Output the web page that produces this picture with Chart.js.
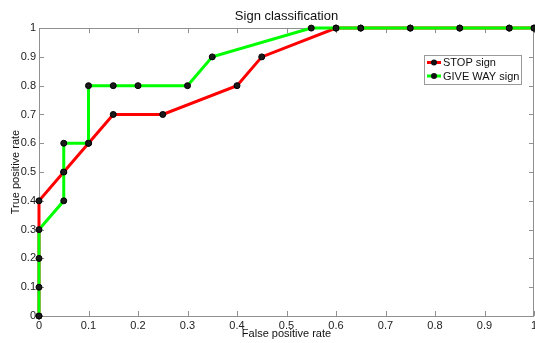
<!DOCTYPE html>
<html>
<head>
<meta charset="utf-8">
<script src="https://cdn.jsdelivr.net/npm/chart.js@4/dist/chart.umd.min.js"></script>
<style>
    html, body { margin: 0; padding: 0; background: #fff; }
    #roc { display: block; }
</style>
</head>
<body>
<canvas id="roc" width="535" height="343"></canvas>
<script>
var seriesNames = ['STOP sign', 'GIVE WAY sign'];
var seriesColors = ['#ff0000', '#00ff00'];

var stopFpr = [0, 0, 0.05, 0.1, 0.15, 0.25, 0.4, 0.45, 0.6, 0.65, 0.75, 0.85, 0.95, 1];
var stopTpr = [0, 0.4, 0.5, 0.6, 0.7, 0.7, 0.8, 0.9, 1, 1, 1, 1, 1, 1];

var giveFpr = [0, 0, 0, 0, 0.05, 0.05, 0.05, 0.1, 0.1, 0.15, 0.2, 0.3, 0.35, 0.55, 0.6, 0.65, 0.75, 0.85, 0.95, 1];
var giveTpr = [0, 0.1, 0.2, 0.3, 0.4, 0.5, 0.6, 0.6, 0.8, 0.8, 0.8, 0.8, 0.9, 1, 1, 1, 1, 1, 1, 1];

var tickValues = [0, 0.1, 0.2, 0.3, 0.4, 0.5, 0.6, 0.7, 0.8, 0.9, 1];

(function () {
    var FONT = '"Liberation Sans", Arial, sans-serif';
    var AXIS_GREY = '#909090';

    function toPoints(xs, ys) {
        var out = [];
        for (var i = 0; i < xs.length; i++) out.push({ x: xs[i], y: ys[i] });
        return out;
    }

    function fmt(v) {
        return String(Number(v.toFixed(1)));
    }

    // matlab-ish box with inward ticks on all four sides
    var boxPlugin = {
        id: 'matlabBox',
        beforeDatasetsDraw: function (chart) {
            var ctx = chart.ctx;
            var a = chart.chartArea;
            var xs = chart.scales.x;
            var ys = chart.scales.y;
            var len = 5;
            ctx.save();
            ctx.strokeStyle = AXIS_GREY;
            ctx.lineWidth = 1;
            ctx.beginPath();
            ctx.rect(Math.round(a.left) + 0.5, Math.round(a.top) + 0.5,
                Math.round(a.right - a.left) - 1, Math.round(a.bottom - a.top));
            tickValues.forEach(function (v) {
                var px = Math.round(xs.getPixelForValue(v)) + 0.5;
                ctx.moveTo(px, a.bottom);
                ctx.lineTo(px, a.bottom - len);
                ctx.moveTo(px, a.top);
                ctx.lineTo(px, a.top + len);
                var py = Math.round(ys.getPixelForValue(v)) + 0.5;
                ctx.moveTo(a.left, py);
                ctx.lineTo(a.left + len, py);
                ctx.moveTo(a.right, py);
                ctx.lineTo(a.right - len, py);
            });
            ctx.stroke();
            ctx.restore();
        }
    };

    var legendPlugin = {
        id: 'insideLegend',
        afterDraw: function (chart) {
            var ctx = chart.ctx;
            var x0 = 424, y0 = 55, w = 97, h = 29;
            ctx.save();
            ctx.fillStyle = '#ffffff';
            ctx.fillRect(x0, y0, w, h);
            ctx.strokeStyle = '#999999';
            ctx.lineWidth = 1;
            ctx.strokeRect(x0 + 0.5, y0 + 0.5, w, h);
            ctx.font = '11px ' + FONT;
            ctx.textBaseline = 'middle';
            chart.data.datasets.forEach(function (ds, i) {
                var cy = y0 + 7.5 + i * 13.5;
                ctx.strokeStyle = ds.borderColor;
                ctx.lineWidth = 3;
                ctx.beginPath();
                ctx.moveTo(x0 + 3, cy);
                ctx.lineTo(x0 + 17, cy);
                ctx.stroke();
                ctx.fillStyle = '#111';
                ctx.beginPath();
                ctx.arc(x0 + 10, cy, 3, 0, Math.PI * 2);
                ctx.fill();
                ctx.fillStyle = '#111';
                ctx.fillText(ds.label, x0 + 19, cy + 0.5);
            });
            ctx.restore();
        }
    };

    function makeDataset(i, xs, ys, order) {
        return {
            label: seriesNames[i],
            data: toPoints(xs, ys),
            showLine: true,
            borderColor: seriesColors[i],
            backgroundColor: seriesColors[i],
            borderWidth: 3,
            pointRadius: 3,
            pointBorderWidth: 1,
            pointBackgroundColor: '#1a1a1a',
            pointBorderColor: '#000',
            tension: 0,
            clip: false,
            order: order
        };
    }

    function initRocChart() {
        var canvas = document.getElementById('roc');
        if (!window.Chart || !canvas) return;

        new Chart(canvas, {
            type: 'scatter',
            data: {
                datasets: [
                    makeDataset(0, stopFpr, stopTpr, 1),
                    makeDataset(1, giveFpr, giveTpr, 0)
                ]
            },
            options: {
                responsive: false,
                animation: false,
                devicePixelRatio: 1,
                layout: { autoPadding: false, padding: { left: 0, right: 1, top: 0, bottom: 0 } },
                plugins: {
                    legend: { display: false },
                    tooltip: { enabled: false },
                    title: {
                        display: true,
                        text: 'Sign classification',
                        fullSize: false,
                        color: '#111',
                        font: { family: FONT, size: 13, weight: 'normal' },
                        padding: { top: 8.5, bottom: 4 }
                    }
                },
                scales: {
                    x: {
                        type: 'linear',
                        min: 0,
                        max: 1,
                        afterBuildTicks: function (scale) {
                            scale.ticks = tickValues.map(function (v) { return { value: v }; });
                        },
                        afterFit: function (scale) {
                            scale.height = 27;
                            scale.paddingLeft = 0;
                            scale.paddingRight = 0;
                        },
                        grid: { display: false, drawTicks: false },
                        border: { display: false },
                        ticks: {
                            padding: 3,
                            maxRotation: 0,
                            autoSkip: false,
                            color: '#222',
                            font: { family: FONT, size: 11 },
                            callback: fmt
                        },
                        title: {
                            display: true,
                            text: 'False positive rate',
                            color: '#111',
                            font: { family: FONT, size: 11 },
                            padding: { top: 0, bottom: 2.4 }
                        }
                    },
                    y: {
                        type: 'linear',
                        min: 0,
                        max: 1,
                        afterBuildTicks: function (scale) {
                            scale.ticks = tickValues.map(function (v) { return { value: v }; });
                        },
                        afterFit: function (scale) {
                            scale.width = 39;
                            scale.paddingTop = 0;
                            scale.paddingBottom = 0;
                        },
                        grid: { display: false, drawTicks: false },
                        border: { display: false },
                        ticks: {
                            padding: 3,
                            autoSkip: false,
                            color: '#222',
                            font: { family: FONT, size: 11 },
                            callback: fmt
                        },
                        title: {
                            display: true,
                            text: 'True positive rate',
                            color: '#111',
                            font: { family: FONT, size: 11 },
                            padding: { top: 9, bottom: 0 }
                        }
                    }
                }
            },
            plugins: [boxPlugin, legendPlugin]
        });
    }

    if (document.readyState === 'loading') {
        document.addEventListener('DOMContentLoaded', initRocChart);
    } else {
        initRocChart();
    }
})();
</script>
</body>
</html>
